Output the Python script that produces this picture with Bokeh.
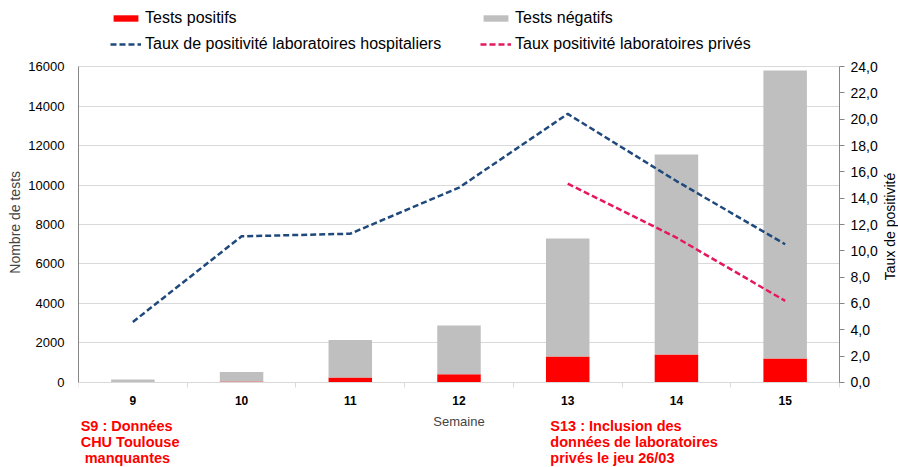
import math
from bokeh.plotting import figure
from bokeh.models import (ColumnDataSource, Range1d, LinearAxis, FixedTicker,
                          CustomJSTickFormatter, Legend, LegendItem, Label)
from bokeh.embed import file_html
from bokeh.resources import INLINE

weeks = [9, 10, 11, 12, 13, 14, 15]
tests_positifs = [5, 45, 250, 420, 1320, 1420, 1210]
tests_negatifs = [145, 485, 1900, 2470, 5970, 10130, 14590]
taux_hosp = [4.6, 11.1, 11.3, 14.8, 20.4, 15.3, 10.5]
weeks_prives = [13, 14, 15]
taux_prives = [15.1, 11.0, 6.2]

left_ticks = [0, 2000, 4000, 6000, 8000, 10000, 12000, 14000, 16000]
right_ticks = [0, 2, 4, 6, 8, 10, 12, 14, 16, 18, 20, 22, 24]
boundaries = [8.5, 9.5, 10.5, 11.5, 12.5, 13.5, 14.5, 15.5]

FONT = "Liberation Sans"
NB = "\u00a0"

# The frame covers the whole canvas height and the right margin; axes are bounded
# to the plotting area (weeks 8.5..15.5, 0..16000 tests, 0..24 %).
Y_LO, Y_HI = -4304, 19342
X_LO, X_HI = 8.5, 16.0427
RATIO = 24 / 16000

src = ColumnDataSource(dict(week=weeks, pos=tests_positifs, neg=tests_negatifs))

p = figure(width=898, height=467, x_range=Range1d(X_LO, X_HI), y_range=Range1d(Y_LO, Y_HI),
           output_backend="svg", toolbar_location=None, x_axis_location=None,
           min_border_left=78, min_border_right=0, min_border_top=0, min_border_bottom=0)
p.outline_line_color = None
p.background_fill_color = "white"

p.extra_y_ranges = {"taux": Range1d(Y_LO * RATIO, Y_HI * RATIO)}

p.xgrid.visible = False
p.ygrid.ticker = FixedTicker(ticks=left_ticks)
p.ygrid.grid_line_color = "#d9d9d9"
p.ygrid.cross_bounds = (8.5, 15.5)

bars = p.vbar_stack(["pos", "neg"], x="week", width=0.4, source=src,
                    fill_color=["#ff0000", "#bfbfbf"], line_color=None)
l1 = p.line(weeks, taux_hosp, y_range_name="taux", line_color="#1F497D",
            line_width=2.5, line_dash="6 3")
l2 = p.line(weeks_prives, taux_prives, y_range_name="taux", line_color="#E6185C",
            line_width=2.5, line_dash="6 3")

# x axis, drawn at y = 0
xa = LinearAxis(ticker=FixedTicker(ticks=weeks, minor_ticks=boundaries), fixed_location=0,
                bounds=(8.5, 15.5))
xa.axis_line_color = "#d9d9d9"
xa.major_tick_out = 0
xa.major_tick_in = 0
xa.minor_tick_out = 5
xa.minor_tick_in = 0
xa.minor_tick_line_color = "#d9d9d9"
xa.major_label_text_font = FONT
xa.major_label_text_font_style = "bold"
xa.major_label_text_font_size = "12px"
xa.major_label_text_color = "#000000"
xa.major_label_standoff = 9
xa.axis_label = "Semaine"
xa.axis_label_text_font = FONT
xa.axis_label_text_font_style = "normal"
xa.axis_label_text_font_size = "13px"
xa.axis_label_standoff = 5
p.add_layout(xa, "below")

# left axis
ya = p.yaxis[0]
ya.ticker = FixedTicker(ticks=left_ticks)
ya.bounds = (0, 16000)
ya.axis_line_color = "#868686"
ya.major_tick_out = 0
ya.major_tick_in = 0
ya.minor_tick_out = 0
ya.minor_tick_in = 0
ya.major_label_text_font = FONT
ya.major_label_text_font_size = "13px"
ya.major_label_text_color = "#000000"
ya.major_label_standoff = 14
ya.axis_label = NB * 6 + "Nombre de tests"
ya.axis_label_text_font = FONT
ya.axis_label_text_font_style = "normal"
ya.axis_label_text_font_size = "14px"
ya.axis_label_standoff = 2

# right axis, drawn at the right edge of the plotting area (week 15.5)
ra = LinearAxis(y_range_name="taux", ticker=FixedTicker(ticks=right_ticks), bounds=(0, 24),
                fixed_location=15.5,
                formatter=CustomJSTickFormatter(code="return tick.toFixed(1).replace('.', ',');"))
ra.axis_line_color = "#868686"
ra.major_tick_out = 5
ra.major_tick_in = 0
ra.major_tick_line_color = "#868686"
ra.minor_tick_out = 0
ra.minor_tick_in = 0
ra.major_label_text_font = FONT
ra.major_label_text_font_size = "14px"
ra.major_label_text_color = "#000000"
ra.major_label_standoff = 6
p.add_layout(ra, "right")

right_title = Label(x=15.96, y=7900, text="Taux de positivité", angle=math.pi / 2,
                    text_align="center", text_baseline="middle", text_font=FONT,
                    text_font_size="14px", text_color="#000000")
p.add_layout(right_title)

legend = Legend(items=[
    LegendItem(label="Tests positifs", renderers=[bars[0]]),
    LegendItem(label="Tests négatifs", renderers=[bars[1]]),
    LegendItem(label="Taux de positivité laboratoires hospitaliers", renderers=[l1]),
    LegendItem(label="Taux positivité laboratoires privés", renderers=[l2]),
], location=(32, 413), orientation="horizontal", ncols=2,
    glyph_width=31, glyph_height=8, label_height=20, label_width=329,
    label_standoff=4, spacing=6, padding=0, margin=0,
    label_text_font=FONT, label_text_font_size="16px", label_text_color="#000000",
    background_fill_alpha=0, border_line_alpha=0)
p.add_layout(legend, "center")

ann1 = Label(x=8.52, y=-1800, text="S9 : Données\nCHU Toulouse\n" + NB + "manquantes",
             text_color="#ff0000", text_font=FONT, text_font_style="bold",
             text_font_size="14.5px", text_baseline="top", text_line_height=1.0)
ann2 = Label(x=12.84, y=-1800, text="S13 : Inclusion des\ndonnées de laboratoires\nprivés le jeu 26/03",
             text_color="#ff0000", text_font=FONT, text_font_style="bold",
             text_font_size="14.5px", text_baseline="top", text_line_height=1.0)
p.add_layout(ann1)
p.add_layout(ann2)

open("out.html", "w").write(file_html(p, INLINE))
